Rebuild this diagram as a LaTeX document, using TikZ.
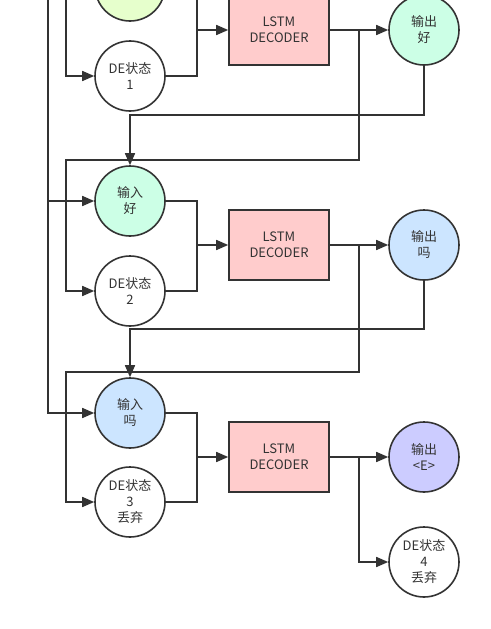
\documentclass[tikz,border=0pt]{standalone}
\usepackage{fontspec}
\setmainfont{Noto Sans CJK SC}
\usetikzlibrary{arrows.meta}
\definecolor{linegray}{HTML}{333333}
\definecolor{ingreen}{HTML}{E6FFCC}
\definecolor{mint}{HTML}{CCFFE6}
\definecolor{skyblue}{HTML}{CCE5FF}
\definecolor{lilac}{HTML}{CCCCFF}
\definecolor{boxred}{HTML}{FFCCCC}
\tikzset{
  circnode/.style={circle,draw=linegray,minimum size=70pt,inner sep=0pt,align=center,
    font=\fontsize{13}{16}\selectfont},
  lstmbox/.style={rectangle,draw=linegray,fill=boxred,minimum width=100pt,minimum height=70pt,
    inner sep=0pt,align=center,font=\fontsize{13}{16}\selectfont},
  flow/.style={-{Triangle[length=12pt,width=10pt]}}
}
\begin{document}
\begin{tikzpicture}[x=1pt,y=-1pt,line width=1.6pt,color=linegray]
  \useasboundingbox (0,0) rectangle (490,629);
  \clip (0,0) rectangle (490,629);
  % step 1
  \node[circnode,fill=ingreen] (in1) at (130,-14) {输入\\你};
  \node[circnode,fill=white] (de1) at (130,76) {DE状态\\1};
  \node[lstmbox] (lstm1) at (279,30) {LSTM\\DECODER};
  \node[circnode,fill=mint] (out1) at (424,30) {输出\\好};
  % step 2
  \node[circnode,fill=mint] (in2) at (130,201) {输入\\好};
  \node[circnode,fill=white] (de2) at (130,291) {DE状态\\2};
  \node[lstmbox] (lstm2) at (279,245) {LSTM\\DECODER};
  \node[circnode,fill=skyblue] (out2) at (424,245) {输出\\吗};
  % step 3
  \node[circnode,fill=skyblue] (in3) at (130,413) {输入\\吗};
  \node[circnode,fill=white] (de3) at (130,502) {DE状态\\3\\丢弃};
  \node[lstmbox] (lstm3) at (279,457) {LSTM\\DECODER};
  \node[circnode,fill=lilac] (out3) at (424,457) {输出\\<E>};
  \node[circnode,fill=white] (de4) at (424,562) {DE状态\\4\\丢弃};

  \coordinate (top48) at (48,0);
  \coordinate (top66) at (66,0);
  \coordinate (j1) at (197,30);
  \coordinate (j2) at (197,245);
  \coordinate (j3) at (197,457);
  \coordinate (b1) at (359,30);
  \coordinate (b2) at (359,245);
  \coordinate (b3) at (359,457);

  % encoder input line on the left
  \draw[flow] (top48) |- (in3.west);
  \draw[flow] (top48 |- in2.west) -- (in2.west);
  \draw[flow] (top66) |- (de1.west);

  % into the decoders
  \draw (in1.east) -| (j1);
  \draw (de1.east) -| (j1);
  \draw[flow] (j1) -- (lstm1.west);
  \draw (in2.east) -| (j2);
  \draw (de2.east) -| (j2);
  \draw[flow] (j2) -- (lstm2.west);
  \draw (in3.east) -| (j3);
  \draw (de3.east) -| (j3);
  \draw[flow] (j3) -- (lstm3.west);

  % outputs
  \draw[flow] (lstm1.east) -- (out1.west);
  \draw[flow] (lstm2.east) -- (out2.west);
  \draw[flow] (lstm3.east) -- (out3.west);

  % states to the next step
  \draw[flow] (b1) -- (359,160) -- (66,160) |- (de2.west);
  \draw[flow] (b2) -- (359,372) -- (66,372) |- (de3.west);
  \draw[flow] (b3) |- (de4.west);

  % output fed back as input
  \draw[flow] (out1.south) |- (130,115) -- (in2.north);
  \draw[flow] (out2.south) |- (130,329) -- (in3.north);
\end{tikzpicture}
\end{document}
